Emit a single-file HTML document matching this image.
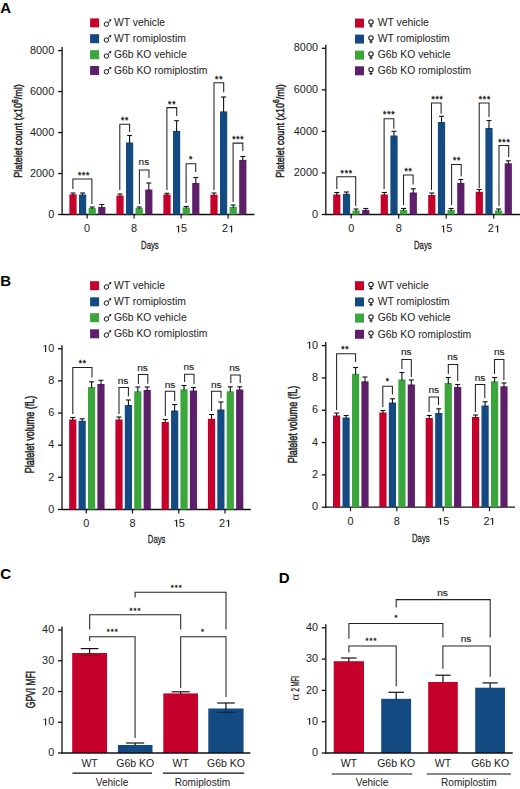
<!DOCTYPE html>
<html><head><meta charset="utf-8"><style>
html,body{margin:0;padding:0;background:#fff;}
body{width:520px;height:789px;overflow:hidden;font-family:"Liberation Sans",sans-serif;}
svg{display:block;}
</style></head><body>
<svg width="520" height="789" viewBox="0 0 520 789">
<rect width="520" height="789" fill="#fff"/>
<text transform="translate(0.2,12.7)" font-family="Liberation Sans" font-size="15" font-weight="bold" text-anchor="start" fill="#000" >A</text>
<text transform="translate(0.2,285.8)" font-family="Liberation Sans" font-size="15" font-weight="bold" text-anchor="start" fill="#000" >B</text>
<text transform="translate(0.2,578.8)" font-family="Liberation Sans" font-size="15" font-weight="bold" text-anchor="start" fill="#000" >C</text>
<text transform="translate(278.8,582.5)" font-family="Liberation Sans" font-size="15" font-weight="bold" text-anchor="start" fill="#000" >D</text>
<rect x="90.1" y="18.4" width="9.0" height="9.0" fill="#c4002b"/>
<circle cx="106.39999999999999" cy="24.2" r="2.2" fill="none" stroke="#1a1a1a" stroke-width="1"/>
<line x1="107.89999999999999" y1="22.7" x2="110.69999999999999" y2="19.9" stroke="#1a1a1a" stroke-width="1.0"/>
<polygon points="111.3,19.299999999999997 108.8,19.6 110.99999999999999,21.8" fill="#1a1a1a"/>
<text transform="translate(113.89999999999999,26.2)" font-family="Liberation Sans" font-size="10.4" font-weight="normal" text-anchor="start" fill="#222" >WT vehicle</text>
<rect x="90.1" y="34.2" width="9.0" height="9.0" fill="#134a82"/>
<circle cx="106.39999999999999" cy="40.0" r="2.2" fill="none" stroke="#1a1a1a" stroke-width="1"/>
<line x1="107.89999999999999" y1="38.5" x2="110.69999999999999" y2="35.7" stroke="#1a1a1a" stroke-width="1.0"/>
<polygon points="111.3,35.1 108.8,35.4 110.99999999999999,37.6" fill="#1a1a1a"/>
<text transform="translate(113.89999999999999,42.0)" font-family="Liberation Sans" font-size="10.4" font-weight="normal" text-anchor="start" fill="#222" >WT romiplostim</text>
<rect x="90.1" y="50.2" width="9.0" height="9.0" fill="#3aa63c"/>
<circle cx="106.39999999999999" cy="56.0" r="2.2" fill="none" stroke="#1a1a1a" stroke-width="1"/>
<line x1="107.89999999999999" y1="54.5" x2="110.69999999999999" y2="51.7" stroke="#1a1a1a" stroke-width="1.0"/>
<polygon points="111.3,51.1 108.8,51.4 110.99999999999999,53.6" fill="#1a1a1a"/>
<text transform="translate(113.89999999999999,58.0)" font-family="Liberation Sans" font-size="10.4" font-weight="normal" text-anchor="start" fill="#222" >G6b KO vehicle</text>
<rect x="90.1" y="66.0" width="9.0" height="9.0" fill="#5e1f6a"/>
<circle cx="106.39999999999999" cy="71.8" r="2.2" fill="none" stroke="#1a1a1a" stroke-width="1"/>
<line x1="107.89999999999999" y1="70.3" x2="110.69999999999999" y2="67.5" stroke="#1a1a1a" stroke-width="1.0"/>
<polygon points="111.3,66.89999999999999 108.8,67.2 110.99999999999999,69.39999999999999" fill="#1a1a1a"/>
<text transform="translate(113.89999999999999,73.8)" font-family="Liberation Sans" font-size="10.4" font-weight="normal" text-anchor="start" fill="#222" >G6b KO romiplostim</text>
<rect x="355.0" y="18.6" width="9.0" height="9.0" fill="#c4002b"/>
<circle cx="371.0" cy="21.900000000000002" r="2.2" fill="none" stroke="#1a1a1a" stroke-width="1.05"/>
<line x1="371.0" y1="24.1" x2="371.0" y2="27.5" stroke="#1a1a1a" stroke-width="1.05"/>
<line x1="369.3" y1="25.900000000000002" x2="372.7" y2="25.900000000000002" stroke="#1a1a1a" stroke-width="0.95"/>
<text transform="translate(377.7,26.400000000000002)" font-family="Liberation Sans" font-size="10.4" font-weight="normal" text-anchor="start" fill="#222" >WT vehicle</text>
<rect x="355.0" y="34.6" width="9.0" height="9.0" fill="#134a82"/>
<circle cx="371.0" cy="37.9" r="2.2" fill="none" stroke="#1a1a1a" stroke-width="1.05"/>
<line x1="371.0" y1="40.1" x2="371.0" y2="43.5" stroke="#1a1a1a" stroke-width="1.05"/>
<line x1="369.3" y1="41.9" x2="372.7" y2="41.9" stroke="#1a1a1a" stroke-width="0.95"/>
<text transform="translate(377.7,42.4)" font-family="Liberation Sans" font-size="10.4" font-weight="normal" text-anchor="start" fill="#222" >WT romiplostim</text>
<rect x="355.0" y="50.6" width="9.0" height="9.0" fill="#3aa63c"/>
<circle cx="371.0" cy="53.9" r="2.2" fill="none" stroke="#1a1a1a" stroke-width="1.05"/>
<line x1="371.0" y1="56.1" x2="371.0" y2="59.5" stroke="#1a1a1a" stroke-width="1.05"/>
<line x1="369.3" y1="57.9" x2="372.7" y2="57.9" stroke="#1a1a1a" stroke-width="0.95"/>
<text transform="translate(377.7,58.4)" font-family="Liberation Sans" font-size="10.4" font-weight="normal" text-anchor="start" fill="#222" >G6b KO vehicle</text>
<rect x="355.0" y="66.3" width="9.0" height="9.0" fill="#5e1f6a"/>
<circle cx="371.0" cy="69.6" r="2.2" fill="none" stroke="#1a1a1a" stroke-width="1.05"/>
<line x1="371.0" y1="71.8" x2="371.0" y2="75.19999999999999" stroke="#1a1a1a" stroke-width="1.05"/>
<line x1="369.3" y1="73.6" x2="372.7" y2="73.6" stroke="#1a1a1a" stroke-width="0.95"/>
<text transform="translate(377.7,74.1)" font-family="Liberation Sans" font-size="10.4" font-weight="normal" text-anchor="start" fill="#222" >G6b KO romiplostim</text>
<line x1="62.1" y1="47.0" x2="62.1" y2="215.1" stroke="#111" stroke-width="1.3"/>
<line x1="58.1" y1="214.5" x2="62.1" y2="214.5" stroke="#111" stroke-width="1.3"/>
<text transform="translate(48.139,217.65) scale(1.09,1)" font-family="Liberation Sans" font-size="10" font-weight="normal" text-anchor="start" fill="#222" >0</text>
<line x1="58.1" y1="173.53" x2="62.1" y2="173.53" stroke="#111" stroke-width="1.3"/>
<text transform="translate(29.954,176.68) scale(1.09,1)" font-family="Liberation Sans" font-size="10" font-weight="normal" text-anchor="start" fill="#222" >2</text>
<text transform="translate(36.016,176.68) scale(1.09,1)" font-family="Liberation Sans" font-size="10" font-weight="normal" text-anchor="start" fill="#222" >0</text>
<text transform="translate(42.077,176.68) scale(1.09,1)" font-family="Liberation Sans" font-size="10" font-weight="normal" text-anchor="start" fill="#222" >0</text>
<text transform="translate(48.139,176.68) scale(1.09,1)" font-family="Liberation Sans" font-size="10" font-weight="normal" text-anchor="start" fill="#222" >0</text>
<line x1="58.1" y1="132.55" x2="62.1" y2="132.55" stroke="#111" stroke-width="1.3"/>
<text transform="translate(29.954,135.7) scale(1.09,1)" font-family="Liberation Sans" font-size="10" font-weight="normal" text-anchor="start" fill="#222" >4</text>
<text transform="translate(36.016,135.7) scale(1.09,1)" font-family="Liberation Sans" font-size="10" font-weight="normal" text-anchor="start" fill="#222" >0</text>
<text transform="translate(42.077,135.7) scale(1.09,1)" font-family="Liberation Sans" font-size="10" font-weight="normal" text-anchor="start" fill="#222" >0</text>
<text transform="translate(48.139,135.7) scale(1.09,1)" font-family="Liberation Sans" font-size="10" font-weight="normal" text-anchor="start" fill="#222" >0</text>
<line x1="58.1" y1="91.57" x2="62.1" y2="91.57" stroke="#111" stroke-width="1.3"/>
<text transform="translate(29.954,94.72) scale(1.09,1)" font-family="Liberation Sans" font-size="10" font-weight="normal" text-anchor="start" fill="#222" >6</text>
<text transform="translate(36.016,94.72) scale(1.09,1)" font-family="Liberation Sans" font-size="10" font-weight="normal" text-anchor="start" fill="#222" >0</text>
<text transform="translate(42.077,94.72) scale(1.09,1)" font-family="Liberation Sans" font-size="10" font-weight="normal" text-anchor="start" fill="#222" >0</text>
<text transform="translate(48.139,94.72) scale(1.09,1)" font-family="Liberation Sans" font-size="10" font-weight="normal" text-anchor="start" fill="#222" >0</text>
<line x1="58.1" y1="50.6" x2="62.1" y2="50.6" stroke="#111" stroke-width="1.3"/>
<text transform="translate(29.954,53.75) scale(1.09,1)" font-family="Liberation Sans" font-size="10" font-weight="normal" text-anchor="start" fill="#222" >8</text>
<text transform="translate(36.016,53.75) scale(1.09,1)" font-family="Liberation Sans" font-size="10" font-weight="normal" text-anchor="start" fill="#222" >0</text>
<text transform="translate(42.077,53.75) scale(1.09,1)" font-family="Liberation Sans" font-size="10" font-weight="normal" text-anchor="start" fill="#222" >0</text>
<text transform="translate(48.139,53.75) scale(1.09,1)" font-family="Liberation Sans" font-size="10" font-weight="normal" text-anchor="start" fill="#222" >0</text>
<line x1="61.5" y1="214.5" x2="254.4" y2="214.5" stroke="#111" stroke-width="1.3"/>
<rect x="69.39999999999999" y="194.3" width="7.2" height="20.2" fill="#c4002b"/>
<rect x="79.0" y="194.5" width="7.2" height="20.0" fill="#134a82"/>
<rect x="88.6" y="208" width="7.2" height="6.5" fill="#3aa63c"/>
<rect x="98.19999999999999" y="207" width="7.2" height="7.5" fill="#5e1f6a"/>
<line x1="72.99999999999999" y1="193" x2="72.99999999999999" y2="195.3" stroke="#111" stroke-width="1.1"/>
<line x1="70.49999999999999" y1="193" x2="75.49999999999999" y2="193" stroke="#111" stroke-width="1.1"/>
<line x1="82.6" y1="193" x2="82.6" y2="195.5" stroke="#111" stroke-width="1.1"/>
<line x1="80.1" y1="193" x2="85.1" y2="193" stroke="#111" stroke-width="1.1"/>
<line x1="92.19999999999999" y1="207" x2="92.19999999999999" y2="209" stroke="#111" stroke-width="1.1"/>
<line x1="89.69999999999999" y1="207" x2="94.69999999999999" y2="207" stroke="#111" stroke-width="1.1"/>
<line x1="101.79999999999998" y1="204.5" x2="101.79999999999998" y2="208" stroke="#111" stroke-width="1.1"/>
<line x1="99.29999999999998" y1="204.5" x2="104.29999999999998" y2="204.5" stroke="#111" stroke-width="1.1"/>
<line x1="87.1" y1="214.5" x2="87.1" y2="218.5" stroke="#111" stroke-width="1.2"/>
<text transform="translate(84.069,232.45) scale(1.09,1)" font-family="Liberation Sans" font-size="10" font-weight="normal" text-anchor="start" fill="#222" >0</text>
<rect x="116.39999999999999" y="195.5" width="7.2" height="19.0" fill="#c4002b"/>
<rect x="126.0" y="142.5" width="7.2" height="72.0" fill="#134a82"/>
<rect x="135.6" y="208" width="7.2" height="6.5" fill="#3aa63c"/>
<rect x="145.2" y="189.5" width="7.2" height="25.0" fill="#5e1f6a"/>
<line x1="119.99999999999999" y1="194" x2="119.99999999999999" y2="196.5" stroke="#111" stroke-width="1.1"/>
<line x1="117.49999999999999" y1="194" x2="122.49999999999999" y2="194" stroke="#111" stroke-width="1.1"/>
<line x1="129.6" y1="135.5" x2="129.6" y2="143.5" stroke="#111" stroke-width="1.1"/>
<line x1="127.1" y1="135.5" x2="132.1" y2="135.5" stroke="#111" stroke-width="1.1"/>
<line x1="139.2" y1="207" x2="139.2" y2="209" stroke="#111" stroke-width="1.1"/>
<line x1="136.7" y1="207" x2="141.7" y2="207" stroke="#111" stroke-width="1.1"/>
<line x1="148.79999999999998" y1="183" x2="148.79999999999998" y2="190.5" stroke="#111" stroke-width="1.1"/>
<line x1="146.29999999999998" y1="183" x2="151.29999999999998" y2="183" stroke="#111" stroke-width="1.1"/>
<line x1="134.1" y1="214.5" x2="134.1" y2="218.5" stroke="#111" stroke-width="1.2"/>
<text transform="translate(131.069,232.45) scale(1.09,1)" font-family="Liberation Sans" font-size="10" font-weight="normal" text-anchor="start" fill="#222" >8</text>
<rect x="163.4" y="194.5" width="7.2" height="20.0" fill="#c4002b"/>
<rect x="173.0" y="130.9" width="7.2" height="83.6" fill="#134a82"/>
<rect x="182.6" y="207.5" width="7.2" height="7.0" fill="#3aa63c"/>
<rect x="192.2" y="183" width="7.2" height="31.5" fill="#5e1f6a"/>
<line x1="167.0" y1="193.3" x2="167.0" y2="195.5" stroke="#111" stroke-width="1.1"/>
<line x1="164.5" y1="193.3" x2="169.5" y2="193.3" stroke="#111" stroke-width="1.1"/>
<line x1="176.6" y1="120.7" x2="176.6" y2="131.9" stroke="#111" stroke-width="1.1"/>
<line x1="174.1" y1="120.7" x2="179.1" y2="120.7" stroke="#111" stroke-width="1.1"/>
<line x1="186.2" y1="206.5" x2="186.2" y2="208.5" stroke="#111" stroke-width="1.1"/>
<line x1="183.7" y1="206.5" x2="188.7" y2="206.5" stroke="#111" stroke-width="1.1"/>
<line x1="195.79999999999998" y1="177.5" x2="195.79999999999998" y2="184" stroke="#111" stroke-width="1.1"/>
<line x1="193.29999999999998" y1="177.5" x2="198.29999999999998" y2="177.5" stroke="#111" stroke-width="1.1"/>
<line x1="181.1" y1="214.5" x2="181.1" y2="218.5" stroke="#111" stroke-width="1.2"/>
<path d="M178 232.45 L178 226.41 L176.31 227.52 L176.31 226.69 L178.08 225.57 L179.2 225.57 L179.2 232.45Z" fill="#222"/>
<text transform="translate(181.1,232.45) scale(1.09,1)" font-family="Liberation Sans" font-size="10" font-weight="normal" text-anchor="start" fill="#222" >5</text>
<rect x="210.4" y="194.7" width="7.2" height="19.8" fill="#c4002b"/>
<rect x="220.0" y="111.4" width="7.2" height="103.1" fill="#134a82"/>
<rect x="229.6" y="206.8" width="7.2" height="7.7" fill="#3aa63c"/>
<rect x="239.2" y="159.9" width="7.2" height="54.6" fill="#5e1f6a"/>
<line x1="214.0" y1="193" x2="214.0" y2="195.7" stroke="#111" stroke-width="1.1"/>
<line x1="211.5" y1="193" x2="216.5" y2="193" stroke="#111" stroke-width="1.1"/>
<line x1="223.6" y1="97" x2="223.6" y2="112.4" stroke="#111" stroke-width="1.1"/>
<line x1="221.1" y1="97" x2="226.1" y2="97" stroke="#111" stroke-width="1.1"/>
<line x1="233.2" y1="205" x2="233.2" y2="207.8" stroke="#111" stroke-width="1.1"/>
<line x1="230.7" y1="205" x2="235.7" y2="205" stroke="#111" stroke-width="1.1"/>
<line x1="242.79999999999998" y1="156.5" x2="242.79999999999998" y2="160.9" stroke="#111" stroke-width="1.1"/>
<line x1="240.29999999999998" y1="156.5" x2="245.29999999999998" y2="156.5" stroke="#111" stroke-width="1.1"/>
<line x1="228.1" y1="214.5" x2="228.1" y2="218.5" stroke="#111" stroke-width="1.2"/>
<text transform="translate(222.039,232.45) scale(1.09,1)" font-family="Liberation Sans" font-size="10" font-weight="normal" text-anchor="start" fill="#222" >2</text>
<path d="M231 232.45 L231 226.41 L229.31 227.52 L229.31 226.69 L231.08 225.57 L232.2 225.57 L232.2 232.45Z" fill="#222"/>
<polyline points="72.9,189 72.9,179 91.9,179 91.9,204" fill="none" stroke="#222" stroke-width="1.05"/>
<text transform="translate(79.55,177.72)" font-family="Liberation Sans" font-size="8.5" font-weight="normal" text-anchor="middle" fill="#222" stroke="#222" stroke-width="0.35" >*</text>
<text transform="translate(83.6,177.72)" font-family="Liberation Sans" font-size="8.5" font-weight="normal" text-anchor="middle" fill="#222" stroke="#222" stroke-width="0.35" >*</text>
<text transform="translate(87.65,177.72)" font-family="Liberation Sans" font-size="8.5" font-weight="normal" text-anchor="middle" fill="#222" stroke="#222" stroke-width="0.35" >*</text>
<polyline points="119.8,190 119.8,124.2 129.6,124.2 129.6,132" fill="none" stroke="#222" stroke-width="1.05"/>
<text transform="translate(122.67,122.72)" font-family="Liberation Sans" font-size="8.5" font-weight="normal" text-anchor="middle" fill="#222" stroke="#222" stroke-width="0.35" >*</text>
<text transform="translate(126.73,122.72)" font-family="Liberation Sans" font-size="8.5" font-weight="normal" text-anchor="middle" fill="#222" stroke="#222" stroke-width="0.35" >*</text>
<polyline points="139.4,204 139.4,170 149.0,170 149.0,178" fill="none" stroke="#222" stroke-width="1.05"/>
<text transform="translate(143.9,164.59) scale(1.05,1)" font-family="Liberation Sans" font-size="9.6" font-weight="normal" text-anchor="middle" fill="#222" stroke="#222" stroke-width="0.15" >ns</text>
<polyline points="166.9,190 166.9,107.6 176.7,107.6 176.7,116" fill="none" stroke="#222" stroke-width="1.05"/>
<text transform="translate(169.78,106.72)" font-family="Liberation Sans" font-size="8.5" font-weight="normal" text-anchor="middle" fill="#222" stroke="#222" stroke-width="0.35" >*</text>
<text transform="translate(173.83,106.72)" font-family="Liberation Sans" font-size="8.5" font-weight="normal" text-anchor="middle" fill="#222" stroke="#222" stroke-width="0.35" >*</text>
<polyline points="186.1,203 186.1,163.7 195.7,163.7 195.7,172" fill="none" stroke="#222" stroke-width="1.05"/>
<text transform="translate(190.6,162.42)" font-family="Liberation Sans" font-size="8.5" font-weight="normal" text-anchor="middle" fill="#222" stroke="#222" stroke-width="0.35" >*</text>
<polyline points="214.0,190 214.0,82.8 223.7,82.8 223.7,92.2" fill="none" stroke="#222" stroke-width="1.05"/>
<text transform="translate(216.78,81.72)" font-family="Liberation Sans" font-size="8.5" font-weight="normal" text-anchor="middle" fill="#222" stroke="#222" stroke-width="0.35" >*</text>
<text transform="translate(220.83,81.72)" font-family="Liberation Sans" font-size="8.5" font-weight="normal" text-anchor="middle" fill="#222" stroke="#222" stroke-width="0.35" >*</text>
<polyline points="233.1,202 233.1,143.1 242.8,143.1 242.8,151" fill="none" stroke="#222" stroke-width="1.05"/>
<text transform="translate(233.85,142.22)" font-family="Liberation Sans" font-size="8.5" font-weight="normal" text-anchor="middle" fill="#222" stroke="#222" stroke-width="0.35" >*</text>
<text transform="translate(237.9,142.22)" font-family="Liberation Sans" font-size="8.5" font-weight="normal" text-anchor="middle" fill="#222" stroke="#222" stroke-width="0.35" >*</text>
<text transform="translate(241.95,142.22)" font-family="Liberation Sans" font-size="8.5" font-weight="normal" text-anchor="middle" fill="#222" stroke="#222" stroke-width="0.35" >*</text>
<text transform="translate(149.9,248.8) scale(0.66,1)" font-family="Liberation Sans" font-size="11.7" font-weight="normal" text-anchor="middle" fill="#222" stroke="#222" stroke-width="0.3" >Days</text>
<text transform="translate(22.4,131) rotate(-90) scale(0.8,1)" font-family="Liberation Sans" font-size="11.3" text-anchor="middle" fill="#1a1a1a" stroke="#1a1a1a" stroke-width="0.45">Platelet count (x10<tspan font-size="8.5" dy="-4.6">6</tspan><tspan dy="4.6">/ml)</tspan></text>
<line x1="325.8" y1="44.699999999999996" x2="325.8" y2="215.1" stroke="#111" stroke-width="1.3"/>
<line x1="321.8" y1="214.5" x2="325.8" y2="214.5" stroke="#111" stroke-width="1.3"/>
<text transform="translate(311.939,217.65) scale(1.09,1)" font-family="Liberation Sans" font-size="10" font-weight="normal" text-anchor="start" fill="#222" >0</text>
<line x1="321.8" y1="172.95" x2="325.8" y2="172.95" stroke="#111" stroke-width="1.3"/>
<text transform="translate(293.754,176.1) scale(1.09,1)" font-family="Liberation Sans" font-size="10" font-weight="normal" text-anchor="start" fill="#222" >2</text>
<text transform="translate(299.816,176.1) scale(1.09,1)" font-family="Liberation Sans" font-size="10" font-weight="normal" text-anchor="start" fill="#222" >0</text>
<text transform="translate(305.877,176.1) scale(1.09,1)" font-family="Liberation Sans" font-size="10" font-weight="normal" text-anchor="start" fill="#222" >0</text>
<text transform="translate(311.939,176.1) scale(1.09,1)" font-family="Liberation Sans" font-size="10" font-weight="normal" text-anchor="start" fill="#222" >0</text>
<line x1="321.8" y1="131.4" x2="325.8" y2="131.4" stroke="#111" stroke-width="1.3"/>
<text transform="translate(293.754,134.54999999999998) scale(1.09,1)" font-family="Liberation Sans" font-size="10" font-weight="normal" text-anchor="start" fill="#222" >4</text>
<text transform="translate(299.816,134.54999999999998) scale(1.09,1)" font-family="Liberation Sans" font-size="10" font-weight="normal" text-anchor="start" fill="#222" >0</text>
<text transform="translate(305.877,134.54999999999998) scale(1.09,1)" font-family="Liberation Sans" font-size="10" font-weight="normal" text-anchor="start" fill="#222" >0</text>
<text transform="translate(311.939,134.54999999999998) scale(1.09,1)" font-family="Liberation Sans" font-size="10" font-weight="normal" text-anchor="start" fill="#222" >0</text>
<line x1="321.8" y1="89.85" x2="325.8" y2="89.85" stroke="#111" stroke-width="1.3"/>
<text transform="translate(293.754,93.0) scale(1.09,1)" font-family="Liberation Sans" font-size="10" font-weight="normal" text-anchor="start" fill="#222" >6</text>
<text transform="translate(299.816,93.0) scale(1.09,1)" font-family="Liberation Sans" font-size="10" font-weight="normal" text-anchor="start" fill="#222" >0</text>
<text transform="translate(305.877,93.0) scale(1.09,1)" font-family="Liberation Sans" font-size="10" font-weight="normal" text-anchor="start" fill="#222" >0</text>
<text transform="translate(311.939,93.0) scale(1.09,1)" font-family="Liberation Sans" font-size="10" font-weight="normal" text-anchor="start" fill="#222" >0</text>
<line x1="321.8" y1="48.3" x2="325.8" y2="48.3" stroke="#111" stroke-width="1.3"/>
<text transform="translate(293.754,51.45) scale(1.09,1)" font-family="Liberation Sans" font-size="10" font-weight="normal" text-anchor="start" fill="#222" >8</text>
<text transform="translate(299.816,51.45) scale(1.09,1)" font-family="Liberation Sans" font-size="10" font-weight="normal" text-anchor="start" fill="#222" >0</text>
<text transform="translate(305.877,51.45) scale(1.09,1)" font-family="Liberation Sans" font-size="10" font-weight="normal" text-anchor="start" fill="#222" >0</text>
<text transform="translate(311.939,51.45) scale(1.09,1)" font-family="Liberation Sans" font-size="10" font-weight="normal" text-anchor="start" fill="#222" >0</text>
<line x1="325.2" y1="214.5" x2="520" y2="214.5" stroke="#111" stroke-width="1.3"/>
<rect x="333.2" y="194.5" width="7.2" height="20.0" fill="#c4002b"/>
<rect x="342.9" y="193.8" width="7.2" height="20.7" fill="#134a82"/>
<rect x="352.5" y="210.5" width="7.2" height="4.0" fill="#3aa63c"/>
<rect x="362.2" y="210" width="7.2" height="4.5" fill="#5e1f6a"/>
<line x1="336.8" y1="192.5" x2="336.8" y2="195.5" stroke="#111" stroke-width="1.1"/>
<line x1="334.3" y1="192.5" x2="339.3" y2="192.5" stroke="#111" stroke-width="1.1"/>
<line x1="346.5" y1="192" x2="346.5" y2="194.8" stroke="#111" stroke-width="1.1"/>
<line x1="344.0" y1="192" x2="349.0" y2="192" stroke="#111" stroke-width="1.1"/>
<line x1="356.1" y1="209" x2="356.1" y2="211.5" stroke="#111" stroke-width="1.1"/>
<line x1="353.6" y1="209" x2="358.6" y2="209" stroke="#111" stroke-width="1.1"/>
<line x1="365.8" y1="208.5" x2="365.8" y2="211" stroke="#111" stroke-width="1.1"/>
<line x1="363.3" y1="208.5" x2="368.3" y2="208.5" stroke="#111" stroke-width="1.1"/>
<line x1="351.2" y1="214.5" x2="351.2" y2="218.5" stroke="#111" stroke-width="1.2"/>
<text transform="translate(348.169,232.45) scale(1.09,1)" font-family="Liberation Sans" font-size="10" font-weight="normal" text-anchor="start" fill="#222" >0</text>
<rect x="380.7" y="194.5" width="7.2" height="20.0" fill="#c4002b"/>
<rect x="390.4" y="135.5" width="7.2" height="79.0" fill="#134a82"/>
<rect x="400.0" y="210" width="7.2" height="4.5" fill="#3aa63c"/>
<rect x="409.7" y="192.5" width="7.2" height="22.0" fill="#5e1f6a"/>
<line x1="384.3" y1="192.5" x2="384.3" y2="195.5" stroke="#111" stroke-width="1.1"/>
<line x1="381.8" y1="192.5" x2="386.8" y2="192.5" stroke="#111" stroke-width="1.1"/>
<line x1="394.0" y1="131.3" x2="394.0" y2="136.5" stroke="#111" stroke-width="1.1"/>
<line x1="391.5" y1="131.3" x2="396.5" y2="131.3" stroke="#111" stroke-width="1.1"/>
<line x1="403.6" y1="208.5" x2="403.6" y2="211" stroke="#111" stroke-width="1.1"/>
<line x1="401.1" y1="208.5" x2="406.1" y2="208.5" stroke="#111" stroke-width="1.1"/>
<line x1="413.3" y1="188.8" x2="413.3" y2="193.5" stroke="#111" stroke-width="1.1"/>
<line x1="410.8" y1="188.8" x2="415.8" y2="188.8" stroke="#111" stroke-width="1.1"/>
<line x1="398.7" y1="214.5" x2="398.7" y2="218.5" stroke="#111" stroke-width="1.2"/>
<text transform="translate(395.669,232.45) scale(1.09,1)" font-family="Liberation Sans" font-size="10" font-weight="normal" text-anchor="start" fill="#222" >8</text>
<rect x="428.2" y="195" width="7.2" height="19.5" fill="#c4002b"/>
<rect x="437.9" y="122" width="7.2" height="92.5" fill="#134a82"/>
<rect x="447.5" y="210" width="7.2" height="4.5" fill="#3aa63c"/>
<rect x="457.2" y="183" width="7.2" height="31.5" fill="#5e1f6a"/>
<line x1="431.8" y1="193" x2="431.8" y2="196" stroke="#111" stroke-width="1.1"/>
<line x1="429.3" y1="193" x2="434.3" y2="193" stroke="#111" stroke-width="1.1"/>
<line x1="441.5" y1="116.3" x2="441.5" y2="123" stroke="#111" stroke-width="1.1"/>
<line x1="439.0" y1="116.3" x2="444.0" y2="116.3" stroke="#111" stroke-width="1.1"/>
<line x1="451.1" y1="208.5" x2="451.1" y2="211" stroke="#111" stroke-width="1.1"/>
<line x1="448.6" y1="208.5" x2="453.6" y2="208.5" stroke="#111" stroke-width="1.1"/>
<line x1="460.8" y1="179.5" x2="460.8" y2="184" stroke="#111" stroke-width="1.1"/>
<line x1="458.3" y1="179.5" x2="463.3" y2="179.5" stroke="#111" stroke-width="1.1"/>
<line x1="446.2" y1="214.5" x2="446.2" y2="218.5" stroke="#111" stroke-width="1.2"/>
<path d="M443 232.45 L443 226.41 L441.31 227.52 L441.31 226.69 L443.08 225.57 L444.2 225.57 L444.2 232.45Z" fill="#222"/>
<text transform="translate(446.2,232.45) scale(1.09,1)" font-family="Liberation Sans" font-size="10" font-weight="normal" text-anchor="start" fill="#222" >5</text>
<rect x="475.7" y="191.8" width="7.2" height="22.7" fill="#c4002b"/>
<rect x="485.4" y="128" width="7.2" height="86.5" fill="#134a82"/>
<rect x="495.0" y="210.5" width="7.2" height="4.0" fill="#3aa63c"/>
<rect x="504.7" y="163.3" width="7.2" height="51.2" fill="#5e1f6a"/>
<line x1="479.3" y1="189.5" x2="479.3" y2="192.8" stroke="#111" stroke-width="1.1"/>
<line x1="476.8" y1="189.5" x2="481.8" y2="189.5" stroke="#111" stroke-width="1.1"/>
<line x1="489.0" y1="120.5" x2="489.0" y2="129" stroke="#111" stroke-width="1.1"/>
<line x1="486.5" y1="120.5" x2="491.5" y2="120.5" stroke="#111" stroke-width="1.1"/>
<line x1="498.6" y1="209" x2="498.6" y2="211.5" stroke="#111" stroke-width="1.1"/>
<line x1="496.1" y1="209" x2="501.1" y2="209" stroke="#111" stroke-width="1.1"/>
<line x1="508.3" y1="160.8" x2="508.3" y2="164.3" stroke="#111" stroke-width="1.1"/>
<line x1="505.8" y1="160.8" x2="510.8" y2="160.8" stroke="#111" stroke-width="1.1"/>
<line x1="493.7" y1="214.5" x2="493.7" y2="218.5" stroke="#111" stroke-width="1.2"/>
<text transform="translate(487.639,232.45) scale(1.09,1)" font-family="Liberation Sans" font-size="10" font-weight="normal" text-anchor="start" fill="#222" >2</text>
<path d="M497 232.45 L497 226.41 L495.31 227.52 L495.31 226.69 L497.08 225.57 L498.2 225.57 L498.2 232.45Z" fill="#222"/>
<polyline points="336.8,189 336.8,176.8 355.7,176.8 355.7,206" fill="none" stroke="#222" stroke-width="1.05"/>
<text transform="translate(342.25,176.42)" font-family="Liberation Sans" font-size="8.5" font-weight="normal" text-anchor="middle" fill="#222" stroke="#222" stroke-width="0.35" >*</text>
<text transform="translate(346.3,176.42)" font-family="Liberation Sans" font-size="8.5" font-weight="normal" text-anchor="middle" fill="#222" stroke="#222" stroke-width="0.35" >*</text>
<text transform="translate(350.35,176.42)" font-family="Liberation Sans" font-size="8.5" font-weight="normal" text-anchor="middle" fill="#222" stroke="#222" stroke-width="0.35" >*</text>
<polyline points="384.1,189 384.1,118.8 393.8,118.8 393.8,128.8" fill="none" stroke="#222" stroke-width="1.05"/>
<text transform="translate(384.75,117.42)" font-family="Liberation Sans" font-size="8.5" font-weight="normal" text-anchor="middle" fill="#222" stroke="#222" stroke-width="0.35" >*</text>
<text transform="translate(388.8,117.42)" font-family="Liberation Sans" font-size="8.5" font-weight="normal" text-anchor="middle" fill="#222" stroke="#222" stroke-width="0.35" >*</text>
<text transform="translate(392.85,117.42)" font-family="Liberation Sans" font-size="8.5" font-weight="normal" text-anchor="middle" fill="#222" stroke="#222" stroke-width="0.35" >*</text>
<polyline points="403.5,205 403.5,175 413.1,175 413.1,184.5" fill="none" stroke="#222" stroke-width="1.05"/>
<text transform="translate(406.18,173.92)" font-family="Liberation Sans" font-size="8.5" font-weight="normal" text-anchor="middle" fill="#222" stroke="#222" stroke-width="0.35" >*</text>
<text transform="translate(410.22,173.92)" font-family="Liberation Sans" font-size="8.5" font-weight="normal" text-anchor="middle" fill="#222" stroke="#222" stroke-width="0.35" >*</text>
<polyline points="431.5,190 431.5,103 441.1,103 441.1,113.8" fill="none" stroke="#222" stroke-width="1.05"/>
<text transform="translate(433.15,101.92)" font-family="Liberation Sans" font-size="8.5" font-weight="normal" text-anchor="middle" fill="#222" stroke="#222" stroke-width="0.35" >*</text>
<text transform="translate(437.2,101.92)" font-family="Liberation Sans" font-size="8.5" font-weight="normal" text-anchor="middle" fill="#222" stroke="#222" stroke-width="0.35" >*</text>
<text transform="translate(441.25,101.92)" font-family="Liberation Sans" font-size="8.5" font-weight="normal" text-anchor="middle" fill="#222" stroke="#222" stroke-width="0.35" >*</text>
<polyline points="451.6,205 451.6,164.5 461.2,164.5 461.2,176.3" fill="none" stroke="#222" stroke-width="1.05"/>
<text transform="translate(454.58,162.72)" font-family="Liberation Sans" font-size="8.5" font-weight="normal" text-anchor="middle" fill="#222" stroke="#222" stroke-width="0.35" >*</text>
<text transform="translate(458.62,162.72)" font-family="Liberation Sans" font-size="8.5" font-weight="normal" text-anchor="middle" fill="#222" stroke="#222" stroke-width="0.35" >*</text>
<polyline points="479.2,188 479.2,103 489.0,103 489.0,117" fill="none" stroke="#222" stroke-width="1.05"/>
<text transform="translate(480.45,101.92)" font-family="Liberation Sans" font-size="8.5" font-weight="normal" text-anchor="middle" fill="#222" stroke="#222" stroke-width="0.35" >*</text>
<text transform="translate(484.5,101.92)" font-family="Liberation Sans" font-size="8.5" font-weight="normal" text-anchor="middle" fill="#222" stroke="#222" stroke-width="0.35" >*</text>
<text transform="translate(488.55,101.92)" font-family="Liberation Sans" font-size="8.5" font-weight="normal" text-anchor="middle" fill="#222" stroke="#222" stroke-width="0.35" >*</text>
<polyline points="499.0,206 499.0,145.5 508.7,145.5 508.7,157" fill="none" stroke="#222" stroke-width="1.05"/>
<text transform="translate(499.95,144.92)" font-family="Liberation Sans" font-size="8.5" font-weight="normal" text-anchor="middle" fill="#222" stroke="#222" stroke-width="0.35" >*</text>
<text transform="translate(504.0,144.92)" font-family="Liberation Sans" font-size="8.5" font-weight="normal" text-anchor="middle" fill="#222" stroke="#222" stroke-width="0.35" >*</text>
<text transform="translate(508.05,144.92)" font-family="Liberation Sans" font-size="8.5" font-weight="normal" text-anchor="middle" fill="#222" stroke="#222" stroke-width="0.35" >*</text>
<text transform="translate(422.8,248.8) scale(0.66,1)" font-family="Liberation Sans" font-size="11.7" font-weight="normal" text-anchor="middle" fill="#222" stroke="#222" stroke-width="0.3" >Days</text>
<text transform="translate(283.6,131) rotate(-90) scale(0.8,1)" font-family="Liberation Sans" font-size="11.3" text-anchor="middle" fill="#1a1a1a" stroke="#1a1a1a" stroke-width="0.45">Platelet count (x10<tspan font-size="8.5" dy="-4.6">6</tspan><tspan dy="4.6">/ml)</tspan></text>
<rect x="90.1" y="281.2" width="9.0" height="9.0" fill="#c4002b"/>
<circle cx="106.39999999999999" cy="287.0" r="2.2" fill="none" stroke="#1a1a1a" stroke-width="1"/>
<line x1="107.89999999999999" y1="285.5" x2="110.69999999999999" y2="282.7" stroke="#1a1a1a" stroke-width="1.0"/>
<polygon points="111.3,282.1 108.8,282.4 110.99999999999999,284.6" fill="#1a1a1a"/>
<text transform="translate(113.89999999999999,289.0)" font-family="Liberation Sans" font-size="10.4" font-weight="normal" text-anchor="start" fill="#222" >WT vehicle</text>
<rect x="90.1" y="297.3" width="9.0" height="9.0" fill="#134a82"/>
<circle cx="106.39999999999999" cy="303.1" r="2.2" fill="none" stroke="#1a1a1a" stroke-width="1"/>
<line x1="107.89999999999999" y1="301.6" x2="110.69999999999999" y2="298.8" stroke="#1a1a1a" stroke-width="1.0"/>
<polygon points="111.3,298.20000000000005 108.8,298.5 110.99999999999999,300.70000000000005" fill="#1a1a1a"/>
<text transform="translate(113.89999999999999,305.1)" font-family="Liberation Sans" font-size="10.4" font-weight="normal" text-anchor="start" fill="#222" >WT romiplostim</text>
<rect x="90.1" y="313.2" width="9.0" height="9.0" fill="#3aa63c"/>
<circle cx="106.39999999999999" cy="319.0" r="2.2" fill="none" stroke="#1a1a1a" stroke-width="1"/>
<line x1="107.89999999999999" y1="317.5" x2="110.69999999999999" y2="314.7" stroke="#1a1a1a" stroke-width="1.0"/>
<polygon points="111.3,314.1 108.8,314.4 110.99999999999999,316.6" fill="#1a1a1a"/>
<text transform="translate(113.89999999999999,321.0)" font-family="Liberation Sans" font-size="10.4" font-weight="normal" text-anchor="start" fill="#222" >G6b KO vehicle</text>
<rect x="90.1" y="329.3" width="9.0" height="9.0" fill="#5e1f6a"/>
<circle cx="106.39999999999999" cy="335.1" r="2.2" fill="none" stroke="#1a1a1a" stroke-width="1"/>
<line x1="107.89999999999999" y1="333.6" x2="110.69999999999999" y2="330.8" stroke="#1a1a1a" stroke-width="1.0"/>
<polygon points="111.3,330.20000000000005 108.8,330.5 110.99999999999999,332.70000000000005" fill="#1a1a1a"/>
<text transform="translate(113.89999999999999,337.1)" font-family="Liberation Sans" font-size="10.4" font-weight="normal" text-anchor="start" fill="#222" >G6b KO romiplostim</text>
<rect x="355.0" y="281.2" width="9.0" height="9.0" fill="#c4002b"/>
<circle cx="371.0" cy="284.5" r="2.2" fill="none" stroke="#1a1a1a" stroke-width="1.05"/>
<line x1="371.0" y1="286.7" x2="371.0" y2="290.1" stroke="#1a1a1a" stroke-width="1.05"/>
<line x1="369.3" y1="288.5" x2="372.7" y2="288.5" stroke="#1a1a1a" stroke-width="0.95"/>
<text transform="translate(377.7,289.0)" font-family="Liberation Sans" font-size="10.4" font-weight="normal" text-anchor="start" fill="#222" >WT vehicle</text>
<rect x="355.0" y="297.4" width="9.0" height="9.0" fill="#134a82"/>
<circle cx="371.0" cy="300.7" r="2.2" fill="none" stroke="#1a1a1a" stroke-width="1.05"/>
<line x1="371.0" y1="302.9" x2="371.0" y2="306.3" stroke="#1a1a1a" stroke-width="1.05"/>
<line x1="369.3" y1="304.7" x2="372.7" y2="304.7" stroke="#1a1a1a" stroke-width="0.95"/>
<text transform="translate(377.7,305.2)" font-family="Liberation Sans" font-size="10.4" font-weight="normal" text-anchor="start" fill="#222" >WT romiplostim</text>
<rect x="355.0" y="313.6" width="9.0" height="9.0" fill="#3aa63c"/>
<circle cx="371.0" cy="316.90000000000003" r="2.2" fill="none" stroke="#1a1a1a" stroke-width="1.05"/>
<line x1="371.0" y1="319.1" x2="371.0" y2="322.50000000000006" stroke="#1a1a1a" stroke-width="1.05"/>
<line x1="369.3" y1="320.90000000000003" x2="372.7" y2="320.90000000000003" stroke="#1a1a1a" stroke-width="0.95"/>
<text transform="translate(377.7,321.40000000000003)" font-family="Liberation Sans" font-size="10.4" font-weight="normal" text-anchor="start" fill="#222" >G6b KO vehicle</text>
<rect x="355.0" y="329.8" width="9.0" height="9.0" fill="#5e1f6a"/>
<circle cx="371.0" cy="333.1" r="2.2" fill="none" stroke="#1a1a1a" stroke-width="1.05"/>
<line x1="371.0" y1="335.3" x2="371.0" y2="338.70000000000005" stroke="#1a1a1a" stroke-width="1.05"/>
<line x1="369.3" y1="337.1" x2="372.7" y2="337.1" stroke="#1a1a1a" stroke-width="0.95"/>
<text transform="translate(377.7,337.6)" font-family="Liberation Sans" font-size="10.4" font-weight="normal" text-anchor="start" fill="#222" >G6b KO romiplostim</text>
<line x1="62.0" y1="345.15" x2="62.0" y2="510.1" stroke="#111" stroke-width="1.3"/>
<line x1="58.0" y1="509.5" x2="62.0" y2="509.5" stroke="#111" stroke-width="1.3"/>
<text transform="translate(48.139,512.65) scale(1.09,1)" font-family="Liberation Sans" font-size="10" font-weight="normal" text-anchor="start" fill="#222" >0</text>
<line x1="58.0" y1="477.35" x2="62.0" y2="477.35" stroke="#111" stroke-width="1.3"/>
<text transform="translate(48.139,480.5) scale(1.09,1)" font-family="Liberation Sans" font-size="10" font-weight="normal" text-anchor="start" fill="#222" >2</text>
<line x1="58.0" y1="445.2" x2="62.0" y2="445.2" stroke="#111" stroke-width="1.3"/>
<text transform="translate(48.139,448.35) scale(1.09,1)" font-family="Liberation Sans" font-size="10" font-weight="normal" text-anchor="start" fill="#222" >4</text>
<line x1="58.0" y1="413.05" x2="62.0" y2="413.05" stroke="#111" stroke-width="1.3"/>
<text transform="translate(48.139,416.20000000000005) scale(1.09,1)" font-family="Liberation Sans" font-size="10" font-weight="normal" text-anchor="start" fill="#222" >6</text>
<line x1="58.0" y1="380.9" x2="62.0" y2="380.9" stroke="#111" stroke-width="1.3"/>
<text transform="translate(48.139,384.05) scale(1.09,1)" font-family="Liberation Sans" font-size="10" font-weight="normal" text-anchor="start" fill="#222" >8</text>
<line x1="58.0" y1="348.75" x2="62.0" y2="348.75" stroke="#111" stroke-width="1.3"/>
<path d="M45 351.9 L45 345.86 L43.31 346.97 L43.31 346.14 L45.08 345.02 L46.2 345.02 L46.2 351.9Z" fill="#222"/>
<text transform="translate(48.139,351.90000000000003) scale(1.09,1)" font-family="Liberation Sans" font-size="10" font-weight="normal" text-anchor="start" fill="#222" >0</text>
<line x1="61.4" y1="509.5" x2="250.8" y2="509.5" stroke="#111" stroke-width="1.3"/>
<rect x="69.15" y="419.5" width="7.2" height="90.0" fill="#c4002b"/>
<rect x="78.55" y="420.8" width="7.2" height="88.7" fill="#134a82"/>
<rect x="87.95" y="387" width="7.2" height="122.5" fill="#3aa63c"/>
<rect x="97.35" y="384" width="7.2" height="125.5" fill="#5e1f6a"/>
<line x1="72.75" y1="417.5" x2="72.75" y2="420.5" stroke="#111" stroke-width="1.1"/>
<line x1="70.25" y1="417.5" x2="75.25" y2="417.5" stroke="#111" stroke-width="1.1"/>
<line x1="82.14999999999999" y1="418.8" x2="82.14999999999999" y2="421.8" stroke="#111" stroke-width="1.1"/>
<line x1="79.64999999999999" y1="418.8" x2="84.64999999999999" y2="418.8" stroke="#111" stroke-width="1.1"/>
<line x1="91.55" y1="381.8" x2="91.55" y2="388" stroke="#111" stroke-width="1.1"/>
<line x1="89.05" y1="381.8" x2="94.05" y2="381.8" stroke="#111" stroke-width="1.1"/>
<line x1="100.94999999999999" y1="380.3" x2="100.94999999999999" y2="385" stroke="#111" stroke-width="1.1"/>
<line x1="98.44999999999999" y1="380.3" x2="103.44999999999999" y2="380.3" stroke="#111" stroke-width="1.1"/>
<line x1="86.25" y1="509.5" x2="86.25" y2="513.5" stroke="#111" stroke-width="1.2"/>
<text transform="translate(83.219,526.75) scale(1.09,1)" font-family="Liberation Sans" font-size="10" font-weight="normal" text-anchor="start" fill="#222" >0</text>
<rect x="115.4" y="419.5" width="7.2" height="90.0" fill="#c4002b"/>
<rect x="124.8" y="405" width="7.2" height="104.5" fill="#134a82"/>
<rect x="134.2" y="391.3" width="7.2" height="118.2" fill="#3aa63c"/>
<rect x="143.6" y="390" width="7.2" height="119.5" fill="#5e1f6a"/>
<line x1="119.0" y1="417" x2="119.0" y2="420.5" stroke="#111" stroke-width="1.1"/>
<line x1="116.5" y1="417" x2="121.5" y2="417" stroke="#111" stroke-width="1.1"/>
<line x1="128.4" y1="400" x2="128.4" y2="406" stroke="#111" stroke-width="1.1"/>
<line x1="125.9" y1="400" x2="130.9" y2="400" stroke="#111" stroke-width="1.1"/>
<line x1="137.79999999999998" y1="387" x2="137.79999999999998" y2="392.3" stroke="#111" stroke-width="1.1"/>
<line x1="135.29999999999998" y1="387" x2="140.29999999999998" y2="387" stroke="#111" stroke-width="1.1"/>
<line x1="147.2" y1="387" x2="147.2" y2="391" stroke="#111" stroke-width="1.1"/>
<line x1="144.7" y1="387" x2="149.7" y2="387" stroke="#111" stroke-width="1.1"/>
<line x1="132.5" y1="509.5" x2="132.5" y2="513.5" stroke="#111" stroke-width="1.2"/>
<text transform="translate(129.469,526.75) scale(1.09,1)" font-family="Liberation Sans" font-size="10" font-weight="normal" text-anchor="start" fill="#222" >8</text>
<rect x="161.65" y="422" width="7.2" height="87.5" fill="#c4002b"/>
<rect x="171.05" y="410.5" width="7.2" height="99.0" fill="#134a82"/>
<rect x="180.45" y="389.3" width="7.2" height="120.2" fill="#3aa63c"/>
<rect x="189.85" y="390.5" width="7.2" height="119.0" fill="#5e1f6a"/>
<line x1="165.25" y1="419.5" x2="165.25" y2="423" stroke="#111" stroke-width="1.1"/>
<line x1="162.75" y1="419.5" x2="167.75" y2="419.5" stroke="#111" stroke-width="1.1"/>
<line x1="174.65" y1="404.5" x2="174.65" y2="411.5" stroke="#111" stroke-width="1.1"/>
<line x1="172.15" y1="404.5" x2="177.15" y2="404.5" stroke="#111" stroke-width="1.1"/>
<line x1="184.04999999999998" y1="385.5" x2="184.04999999999998" y2="390.3" stroke="#111" stroke-width="1.1"/>
<line x1="181.54999999999998" y1="385.5" x2="186.54999999999998" y2="385.5" stroke="#111" stroke-width="1.1"/>
<line x1="193.45" y1="387.5" x2="193.45" y2="391.5" stroke="#111" stroke-width="1.1"/>
<line x1="190.95" y1="387.5" x2="195.95" y2="387.5" stroke="#111" stroke-width="1.1"/>
<line x1="178.75" y1="509.5" x2="178.75" y2="513.5" stroke="#111" stroke-width="1.2"/>
<path d="M176 526.75 L176 520.71 L174.31 521.82 L174.31 520.99 L176.08 519.87 L177.2 519.87 L177.2 526.75Z" fill="#222"/>
<text transform="translate(178.75,526.75) scale(1.09,1)" font-family="Liberation Sans" font-size="10" font-weight="normal" text-anchor="start" fill="#222" >5</text>
<rect x="207.9" y="418.8" width="7.2" height="90.7" fill="#c4002b"/>
<rect x="217.3" y="409.5" width="7.2" height="100.0" fill="#134a82"/>
<rect x="226.7" y="391.3" width="7.2" height="118.2" fill="#3aa63c"/>
<rect x="236.1" y="389.5" width="7.2" height="120.0" fill="#5e1f6a"/>
<line x1="211.5" y1="414.5" x2="211.5" y2="419.8" stroke="#111" stroke-width="1.1"/>
<line x1="209.0" y1="414.5" x2="214.0" y2="414.5" stroke="#111" stroke-width="1.1"/>
<line x1="220.9" y1="402" x2="220.9" y2="410.5" stroke="#111" stroke-width="1.1"/>
<line x1="218.4" y1="402" x2="223.4" y2="402" stroke="#111" stroke-width="1.1"/>
<line x1="230.29999999999998" y1="386.8" x2="230.29999999999998" y2="392.3" stroke="#111" stroke-width="1.1"/>
<line x1="227.79999999999998" y1="386.8" x2="232.79999999999998" y2="386.8" stroke="#111" stroke-width="1.1"/>
<line x1="239.7" y1="386.8" x2="239.7" y2="390.5" stroke="#111" stroke-width="1.1"/>
<line x1="237.2" y1="386.8" x2="242.2" y2="386.8" stroke="#111" stroke-width="1.1"/>
<line x1="225.0" y1="509.5" x2="225.0" y2="513.5" stroke="#111" stroke-width="1.2"/>
<text transform="translate(218.939,526.75) scale(1.09,1)" font-family="Liberation Sans" font-size="10" font-weight="normal" text-anchor="start" fill="#222" >2</text>
<path d="M228 526.75 L228 520.71 L226.31 521.82 L226.31 520.99 L228.08 519.87 L229.2 519.87 L229.2 526.75Z" fill="#222"/>
<polyline points="72.8,414 72.8,367.5 92.0,367.5 92.0,377.5" fill="none" stroke="#222" stroke-width="1.05"/>
<text transform="translate(80.47,366.42)" font-family="Liberation Sans" font-size="8.5" font-weight="normal" text-anchor="middle" fill="#222" stroke="#222" stroke-width="0.35" >*</text>
<text transform="translate(84.53,366.42)" font-family="Liberation Sans" font-size="8.5" font-weight="normal" text-anchor="middle" fill="#222" stroke="#222" stroke-width="0.35" >*</text>
<polyline points="119.0,414 119.0,387.5 128.4,387.5 128.4,396.3" fill="none" stroke="#222" stroke-width="1.05"/>
<text transform="translate(123,384.09) scale(1.05,1)" font-family="Liberation Sans" font-size="9.6" font-weight="normal" text-anchor="middle" fill="#222" stroke="#222" stroke-width="0.15" >ns</text>
<polyline points="138.4,384 138.4,374.5 147.8,374.5 147.8,383.8" fill="none" stroke="#222" stroke-width="1.05"/>
<text transform="translate(142.5,370.59) scale(1.05,1)" font-family="Liberation Sans" font-size="9.6" font-weight="normal" text-anchor="middle" fill="#222" stroke="#222" stroke-width="0.15" >ns</text>
<polyline points="165.3,416 165.3,391.3 174.7,391.3 174.7,401" fill="none" stroke="#222" stroke-width="1.05"/>
<text transform="translate(170,388.09) scale(1.05,1)" font-family="Liberation Sans" font-size="9.6" font-weight="normal" text-anchor="middle" fill="#222" stroke="#222" stroke-width="0.15" >ns</text>
<polyline points="184.6,382 184.6,374.3 194.0,374.3 194.0,384" fill="none" stroke="#222" stroke-width="1.05"/>
<text transform="translate(188.8,370.39) scale(1.05,1)" font-family="Liberation Sans" font-size="9.6" font-weight="normal" text-anchor="middle" fill="#222" stroke="#222" stroke-width="0.15" >ns</text>
<polyline points="211.6,411 211.6,391.3 221.0,391.3 221.0,398" fill="none" stroke="#222" stroke-width="1.05"/>
<text transform="translate(216.3,388.09) scale(1.05,1)" font-family="Liberation Sans" font-size="9.6" font-weight="normal" text-anchor="middle" fill="#222" stroke="#222" stroke-width="0.15" >ns</text>
<polyline points="230.8,383 230.8,375 240.2,375 240.2,383" fill="none" stroke="#222" stroke-width="1.05"/>
<text transform="translate(234.5,370.59) scale(1.05,1)" font-family="Liberation Sans" font-size="9.6" font-weight="normal" text-anchor="middle" fill="#222" stroke="#222" stroke-width="0.15" >ns</text>
<text transform="translate(156.6,543.2) scale(0.66,1)" font-family="Liberation Sans" font-size="11.7" font-weight="normal" text-anchor="middle" fill="#222" stroke="#222" stroke-width="0.3" >Days</text>
<text transform="translate(34.4,434.5) rotate(-90) scale(0.75,1)" font-family="Liberation Sans" font-size="12" font-weight="normal" text-anchor="middle" fill="#1a1a1a" stroke="#1a1a1a" stroke-width="0.45" >Platelet volume (fL)</text>
<line x1="325.8" y1="342.0" x2="325.8" y2="507.8" stroke="#111" stroke-width="1.3"/>
<line x1="321.8" y1="507.2" x2="325.8" y2="507.2" stroke="#111" stroke-width="1.3"/>
<text transform="translate(311.939,510.35) scale(1.09,1)" font-family="Liberation Sans" font-size="10" font-weight="normal" text-anchor="start" fill="#222" >0</text>
<line x1="321.8" y1="474.88" x2="325.8" y2="474.88" stroke="#111" stroke-width="1.3"/>
<text transform="translate(311.939,478.03000000000003) scale(1.09,1)" font-family="Liberation Sans" font-size="10" font-weight="normal" text-anchor="start" fill="#222" >2</text>
<line x1="321.8" y1="442.56" x2="325.8" y2="442.56" stroke="#111" stroke-width="1.3"/>
<text transform="translate(311.939,445.71000000000004) scale(1.09,1)" font-family="Liberation Sans" font-size="10" font-weight="normal" text-anchor="start" fill="#222" >4</text>
<line x1="321.8" y1="410.24" x2="325.8" y2="410.24" stroke="#111" stroke-width="1.3"/>
<text transform="translate(311.939,413.39000000000004) scale(1.09,1)" font-family="Liberation Sans" font-size="10" font-weight="normal" text-anchor="start" fill="#222" >6</text>
<line x1="321.8" y1="377.92" x2="325.8" y2="377.92" stroke="#111" stroke-width="1.3"/>
<text transform="translate(311.939,381.07000000000005) scale(1.09,1)" font-family="Liberation Sans" font-size="10" font-weight="normal" text-anchor="start" fill="#222" >8</text>
<line x1="321.8" y1="345.6" x2="325.8" y2="345.6" stroke="#111" stroke-width="1.3"/>
<path d="M309 348.75 L309 342.71 L307.31 343.82 L307.31 342.99 L309.08 341.87 L310.2 341.87 L310.2 348.75Z" fill="#222"/>
<text transform="translate(311.939,348.75) scale(1.09,1)" font-family="Liberation Sans" font-size="10" font-weight="normal" text-anchor="start" fill="#222" >0</text>
<line x1="325.2" y1="507.2" x2="515" y2="507.2" stroke="#111" stroke-width="1.3"/>
<rect x="333.0" y="415.5" width="7.2" height="91.7" fill="#c4002b"/>
<rect x="342.5" y="417.5" width="7.2" height="89.7" fill="#134a82"/>
<rect x="352.0" y="373.8" width="7.2" height="133.4" fill="#3aa63c"/>
<rect x="361.4" y="381.3" width="7.2" height="125.9" fill="#5e1f6a"/>
<line x1="336.6" y1="413" x2="336.6" y2="416.5" stroke="#111" stroke-width="1.1"/>
<line x1="334.1" y1="413" x2="339.1" y2="413" stroke="#111" stroke-width="1.1"/>
<line x1="346.1" y1="415.5" x2="346.1" y2="418.5" stroke="#111" stroke-width="1.1"/>
<line x1="343.6" y1="415.5" x2="348.6" y2="415.5" stroke="#111" stroke-width="1.1"/>
<line x1="355.6" y1="367.5" x2="355.6" y2="374.8" stroke="#111" stroke-width="1.1"/>
<line x1="353.1" y1="367.5" x2="358.1" y2="367.5" stroke="#111" stroke-width="1.1"/>
<line x1="365.0" y1="377" x2="365.0" y2="382.3" stroke="#111" stroke-width="1.1"/>
<line x1="362.5" y1="377" x2="367.5" y2="377" stroke="#111" stroke-width="1.1"/>
<line x1="350.5" y1="507.2" x2="350.5" y2="511.2" stroke="#111" stroke-width="1.2"/>
<text transform="translate(347.469,524.85) scale(1.09,1)" font-family="Liberation Sans" font-size="10" font-weight="normal" text-anchor="start" fill="#222" >0</text>
<rect x="379.33" y="412.5" width="7.2" height="94.7" fill="#c4002b"/>
<rect x="388.83" y="402.5" width="7.2" height="104.7" fill="#134a82"/>
<rect x="398.33" y="379.5" width="7.2" height="127.7" fill="#3aa63c"/>
<rect x="407.72999999999996" y="384.5" width="7.2" height="122.7" fill="#5e1f6a"/>
<line x1="382.93" y1="410.5" x2="382.93" y2="413.5" stroke="#111" stroke-width="1.1"/>
<line x1="380.43" y1="410.5" x2="385.43" y2="410.5" stroke="#111" stroke-width="1.1"/>
<line x1="392.43" y1="398.8" x2="392.43" y2="403.5" stroke="#111" stroke-width="1.1"/>
<line x1="389.93" y1="398.8" x2="394.93" y2="398.8" stroke="#111" stroke-width="1.1"/>
<line x1="401.93" y1="372.5" x2="401.93" y2="380.5" stroke="#111" stroke-width="1.1"/>
<line x1="399.43" y1="372.5" x2="404.43" y2="372.5" stroke="#111" stroke-width="1.1"/>
<line x1="411.33" y1="380" x2="411.33" y2="385.5" stroke="#111" stroke-width="1.1"/>
<line x1="408.83" y1="380" x2="413.83" y2="380" stroke="#111" stroke-width="1.1"/>
<line x1="396.83" y1="507.2" x2="396.83" y2="511.2" stroke="#111" stroke-width="1.2"/>
<text transform="translate(393.799,524.85) scale(1.09,1)" font-family="Liberation Sans" font-size="10" font-weight="normal" text-anchor="start" fill="#222" >8</text>
<rect x="425.65999999999997" y="418" width="7.2" height="89.2" fill="#c4002b"/>
<rect x="435.15999999999997" y="413" width="7.2" height="94.2" fill="#134a82"/>
<rect x="444.65999999999997" y="383" width="7.2" height="124.2" fill="#3aa63c"/>
<rect x="454.05999999999995" y="387" width="7.2" height="120.2" fill="#5e1f6a"/>
<line x1="429.26" y1="415.5" x2="429.26" y2="419" stroke="#111" stroke-width="1.1"/>
<line x1="426.76" y1="415.5" x2="431.76" y2="415.5" stroke="#111" stroke-width="1.1"/>
<line x1="438.76" y1="408.8" x2="438.76" y2="414" stroke="#111" stroke-width="1.1"/>
<line x1="436.26" y1="408.8" x2="441.26" y2="408.8" stroke="#111" stroke-width="1.1"/>
<line x1="448.26" y1="377.5" x2="448.26" y2="384" stroke="#111" stroke-width="1.1"/>
<line x1="445.76" y1="377.5" x2="450.76" y2="377.5" stroke="#111" stroke-width="1.1"/>
<line x1="457.65999999999997" y1="384.5" x2="457.65999999999997" y2="388" stroke="#111" stroke-width="1.1"/>
<line x1="455.15999999999997" y1="384.5" x2="460.15999999999997" y2="384.5" stroke="#111" stroke-width="1.1"/>
<line x1="443.15999999999997" y1="507.2" x2="443.15999999999997" y2="511.2" stroke="#111" stroke-width="1.2"/>
<path d="M440 524.85 L440 518.81 L438.31 519.92 L438.31 519.09 L440.08 517.97 L441.2 517.97 L441.2 524.85Z" fill="#222"/>
<text transform="translate(443.16,524.85) scale(1.09,1)" font-family="Liberation Sans" font-size="10" font-weight="normal" text-anchor="start" fill="#222" >5</text>
<rect x="471.99" y="417" width="7.2" height="90.2" fill="#c4002b"/>
<rect x="481.49" y="405.5" width="7.2" height="101.7" fill="#134a82"/>
<rect x="490.99" y="381.3" width="7.2" height="125.9" fill="#3aa63c"/>
<rect x="500.39" y="386.3" width="7.2" height="120.9" fill="#5e1f6a"/>
<line x1="475.59000000000003" y1="415" x2="475.59000000000003" y2="418" stroke="#111" stroke-width="1.1"/>
<line x1="473.09000000000003" y1="415" x2="478.09000000000003" y2="415" stroke="#111" stroke-width="1.1"/>
<line x1="485.09000000000003" y1="401.8" x2="485.09000000000003" y2="406.5" stroke="#111" stroke-width="1.1"/>
<line x1="482.59000000000003" y1="401.8" x2="487.59000000000003" y2="401.8" stroke="#111" stroke-width="1.1"/>
<line x1="494.59000000000003" y1="377.5" x2="494.59000000000003" y2="382.3" stroke="#111" stroke-width="1.1"/>
<line x1="492.09000000000003" y1="377.5" x2="497.09000000000003" y2="377.5" stroke="#111" stroke-width="1.1"/>
<line x1="503.99" y1="383" x2="503.99" y2="387.3" stroke="#111" stroke-width="1.1"/>
<line x1="501.49" y1="383" x2="506.49" y2="383" stroke="#111" stroke-width="1.1"/>
<line x1="489.49" y1="507.2" x2="489.49" y2="511.2" stroke="#111" stroke-width="1.2"/>
<text transform="translate(483.429,524.85) scale(1.09,1)" font-family="Liberation Sans" font-size="10" font-weight="normal" text-anchor="start" fill="#222" >2</text>
<path d="M492 524.85 L492 518.81 L490.31 519.92 L490.31 519.09 L492.08 517.97 L493.2 517.97 L493.2 524.85Z" fill="#222"/>
<polyline points="336.6,410 336.6,353.8 355.6,353.8 355.6,362" fill="none" stroke="#222" stroke-width="1.05"/>
<text transform="translate(342.98,352.42)" font-family="Liberation Sans" font-size="8.5" font-weight="normal" text-anchor="middle" fill="#222" stroke="#222" stroke-width="0.35" >*</text>
<text transform="translate(347.02,352.42)" font-family="Liberation Sans" font-size="8.5" font-weight="normal" text-anchor="middle" fill="#222" stroke="#222" stroke-width="0.35" >*</text>
<polyline points="382.8,407 382.8,386.3 392.4,386.3 392.4,394.5" fill="none" stroke="#222" stroke-width="1.05"/>
<text transform="translate(387.5,384.42)" font-family="Liberation Sans" font-size="8.5" font-weight="normal" text-anchor="middle" fill="#222" stroke="#222" stroke-width="0.35" >*</text>
<polyline points="401.9,369 401.9,359.5 411.3,359.5 411.3,377" fill="none" stroke="#222" stroke-width="1.05"/>
<text transform="translate(406.3,354.89) scale(1.05,1)" font-family="Liberation Sans" font-size="9.6" font-weight="normal" text-anchor="middle" fill="#222" stroke="#222" stroke-width="0.15" >ns</text>
<polyline points="429.1,412 429.1,397 438.5,397 438.5,405" fill="none" stroke="#222" stroke-width="1.05"/>
<text transform="translate(433.8,393.09) scale(1.05,1)" font-family="Liberation Sans" font-size="9.6" font-weight="normal" text-anchor="middle" fill="#222" stroke="#222" stroke-width="0.15" >ns</text>
<polyline points="448.3,374 448.3,364.5 457.7,364.5 457.7,381" fill="none" stroke="#222" stroke-width="1.05"/>
<text transform="translate(452.5,360.39) scale(1.05,1)" font-family="Liberation Sans" font-size="9.6" font-weight="normal" text-anchor="middle" fill="#222" stroke="#222" stroke-width="0.15" >ns</text>
<polyline points="475.4,412 475.4,384.5 484.8,384.5 484.8,398" fill="none" stroke="#222" stroke-width="1.05"/>
<text transform="translate(480,381.09) scale(1.05,1)" font-family="Liberation Sans" font-size="9.6" font-weight="normal" text-anchor="middle" fill="#222" stroke="#222" stroke-width="0.15" >ns</text>
<polyline points="494.5,374 494.5,359.5 503.9,359.5 503.9,380" fill="none" stroke="#222" stroke-width="1.05"/>
<text transform="translate(499.3,354.89) scale(1.05,1)" font-family="Liberation Sans" font-size="9.6" font-weight="normal" text-anchor="middle" fill="#222" stroke="#222" stroke-width="0.15" >ns</text>
<text transform="translate(420.8,542.0) scale(0.66,1)" font-family="Liberation Sans" font-size="11.7" font-weight="normal" text-anchor="middle" fill="#222" stroke="#222" stroke-width="0.3" >Days</text>
<text transform="translate(296.9,424.6) rotate(-90) scale(0.75,1)" font-family="Liberation Sans" font-size="12" font-weight="normal" text-anchor="middle" fill="#1a1a1a" stroke="#1a1a1a" stroke-width="0.45" >Platelet volume (fL)</text>
<line x1="62.0" y1="626.4" x2="62.0" y2="753.6" stroke="#111" stroke-width="1.3"/>
<line x1="58.0" y1="753.0" x2="62.0" y2="753.0" stroke="#111" stroke-width="1.3"/>
<text transform="translate(48.139,756.15) scale(1.09,1)" font-family="Liberation Sans" font-size="10" font-weight="normal" text-anchor="start" fill="#222" >0</text>
<line x1="58.0" y1="722.25" x2="62.0" y2="722.25" stroke="#111" stroke-width="1.3"/>
<path d="M45 725.4 L45 719.36 L43.31 720.47 L43.31 719.64 L45.08 718.52 L46.2 718.52 L46.2 725.4Z" fill="#222"/>
<text transform="translate(48.139,725.4) scale(1.09,1)" font-family="Liberation Sans" font-size="10" font-weight="normal" text-anchor="start" fill="#222" >0</text>
<line x1="58.0" y1="691.5" x2="62.0" y2="691.5" stroke="#111" stroke-width="1.3"/>
<text transform="translate(42.077,694.65) scale(1.09,1)" font-family="Liberation Sans" font-size="10" font-weight="normal" text-anchor="start" fill="#222" >2</text>
<text transform="translate(48.139,694.65) scale(1.09,1)" font-family="Liberation Sans" font-size="10" font-weight="normal" text-anchor="start" fill="#222" >0</text>
<line x1="58.0" y1="660.75" x2="62.0" y2="660.75" stroke="#111" stroke-width="1.3"/>
<text transform="translate(42.077,663.9) scale(1.09,1)" font-family="Liberation Sans" font-size="10" font-weight="normal" text-anchor="start" fill="#222" >3</text>
<text transform="translate(48.139,663.9) scale(1.09,1)" font-family="Liberation Sans" font-size="10" font-weight="normal" text-anchor="start" fill="#222" >0</text>
<line x1="58.0" y1="630.0" x2="62.0" y2="630.0" stroke="#111" stroke-width="1.3"/>
<text transform="translate(42.077,633.15) scale(1.09,1)" font-family="Liberation Sans" font-size="10" font-weight="normal" text-anchor="start" fill="#222" >4</text>
<text transform="translate(48.139,633.15) scale(1.09,1)" font-family="Liberation Sans" font-size="10" font-weight="normal" text-anchor="start" fill="#222" >0</text>
<rect x="72.2" y="653.0" width="34.8" height="100.0" fill="#c4002b"/>
<rect x="117.9" y="745" width="34.6" height="8" fill="#134a82"/>
<rect x="163.3" y="693.4" width="34.7" height="59.6" fill="#c4002b"/>
<rect x="208.3" y="708.5" width="35.3" height="44.5" fill="#134a82"/>
<line x1="89.6" y1="648.6" x2="89.6" y2="653.5" stroke="#111" stroke-width="1.2"/>
<line x1="80.75" y1="648.6" x2="98.44999999999999" y2="648.6" stroke="#111" stroke-width="1.2"/>
<line x1="89.6" y1="653.0" x2="89.6" y2="655.5" stroke="#7a1424" stroke-width="1.0"/>
<line x1="80.75" y1="655.5" x2="98.44999999999999" y2="655.5" stroke="#7a1424" stroke-width="1.1"/>
<text transform="translate(89.6,766.73)" font-family="Liberation Sans" font-size="10.5" font-weight="normal" text-anchor="middle" fill="#222" >WT</text>
<line x1="135.2" y1="743" x2="135.2" y2="745.5" stroke="#111" stroke-width="1.2"/>
<line x1="126.19999999999999" y1="743" x2="144.2" y2="743" stroke="#111" stroke-width="1.2"/>
<text transform="translate(135.2,766.73)" font-family="Liberation Sans" font-size="10.5" font-weight="normal" text-anchor="middle" fill="#222" >G6b KO</text>
<line x1="180.65" y1="691.8" x2="180.65" y2="693.9" stroke="#111" stroke-width="1.2"/>
<line x1="171.65" y1="691.8" x2="189.65" y2="691.8" stroke="#111" stroke-width="1.2"/>
<text transform="translate(180.65,766.73)" font-family="Liberation Sans" font-size="10.5" font-weight="normal" text-anchor="middle" fill="#222" >WT</text>
<line x1="225.95" y1="703" x2="225.95" y2="709.0" stroke="#111" stroke-width="1.2"/>
<line x1="217.1" y1="703" x2="234.79999999999998" y2="703" stroke="#111" stroke-width="1.2"/>
<line x1="225.95" y1="708.5" x2="225.95" y2="712.3" stroke="#0c2440" stroke-width="1.0"/>
<line x1="217.1" y1="712.3" x2="234.79999999999998" y2="712.3" stroke="#0c2440" stroke-width="1.1"/>
<text transform="translate(225.95,766.73)" font-family="Liberation Sans" font-size="10.5" font-weight="normal" text-anchor="middle" fill="#222" >G6b KO</text>
<line x1="61.4" y1="753" x2="250.4" y2="753" stroke="#111" stroke-width="1.3"/>
<polyline points="135.1,597.6 135.1,592.2 226.0,592.2 226.0,629.4" fill="none" stroke="#222" stroke-width="1.05"/>
<text transform="translate(172.15,590.2)" font-family="Liberation Sans" font-size="7.5" font-weight="normal" text-anchor="middle" fill="#222" stroke="#222" stroke-width="0.35" >*</text>
<text transform="translate(176.2,590.2)" font-family="Liberation Sans" font-size="7.5" font-weight="normal" text-anchor="middle" fill="#222" stroke="#222" stroke-width="0.35" >*</text>
<text transform="translate(180.25,590.2)" font-family="Liberation Sans" font-size="7.5" font-weight="normal" text-anchor="middle" fill="#222" stroke="#222" stroke-width="0.35" >*</text>
<polyline points="89.7,629.4 89.7,614.8 180.7,614.8 180.7,629.4" fill="none" stroke="#222" stroke-width="1.05"/>
<text transform="translate(130.85,612.5)" font-family="Liberation Sans" font-size="7.5" font-weight="normal" text-anchor="middle" fill="#222" stroke="#222" stroke-width="0.35" >*</text>
<text transform="translate(134.9,612.5)" font-family="Liberation Sans" font-size="7.5" font-weight="normal" text-anchor="middle" fill="#222" stroke="#222" stroke-width="0.35" >*</text>
<text transform="translate(138.95,612.5)" font-family="Liberation Sans" font-size="7.5" font-weight="normal" text-anchor="middle" fill="#222" stroke="#222" stroke-width="0.35" >*</text>
<polyline points="89.7,641.1 89.7,636.7 135.1,636.7 135.1,738" fill="none" stroke="#222" stroke-width="1.05"/>
<text transform="translate(108.15,634.4)" font-family="Liberation Sans" font-size="7.5" font-weight="normal" text-anchor="middle" fill="#222" stroke="#222" stroke-width="0.35" >*</text>
<text transform="translate(112.2,634.4)" font-family="Liberation Sans" font-size="7.5" font-weight="normal" text-anchor="middle" fill="#222" stroke="#222" stroke-width="0.35" >*</text>
<text transform="translate(116.25,634.4)" font-family="Liberation Sans" font-size="7.5" font-weight="normal" text-anchor="middle" fill="#222" stroke="#222" stroke-width="0.35" >*</text>
<polyline points="180.7,688 180.7,636.7 226.0,636.7 226.0,697" fill="none" stroke="#222" stroke-width="1.05"/>
<text transform="translate(202.5,634.4)" font-family="Liberation Sans" font-size="7.5" font-weight="normal" text-anchor="middle" fill="#222" stroke="#222" stroke-width="0.35" >*</text>
<line x1="72.5" y1="773.2" x2="151.9" y2="773.2" stroke="#111" stroke-width="1.2"/>
<line x1="162.9" y1="773.2" x2="244.2" y2="773.2" stroke="#111" stroke-width="1.2"/>
<text transform="translate(112,786.19)" font-family="Liberation Sans" font-size="10.1" font-weight="normal" text-anchor="middle" fill="#222" >Vehicle</text>
<text transform="translate(202.4,786.19)" font-family="Liberation Sans" font-size="10.1" font-weight="normal" text-anchor="middle" fill="#222" >Romiplostim</text>
<text transform="translate(35.0,689.6) rotate(-90) scale(0.68,1)" font-family="Liberation Sans" font-size="12.5" font-weight="normal" text-anchor="middle" fill="#1a1a1a" stroke="#1a1a1a" stroke-width="0.5" >GPVI MFI</text>
<line x1="325.8" y1="624.1999999999999" x2="325.8" y2="753.6" stroke="#111" stroke-width="1.3"/>
<line x1="321.8" y1="753.0" x2="325.8" y2="753.0" stroke="#111" stroke-width="1.3"/>
<text transform="translate(311.939,756.15) scale(1.09,1)" font-family="Liberation Sans" font-size="10" font-weight="normal" text-anchor="start" fill="#222" >0</text>
<line x1="321.8" y1="721.7" x2="325.8" y2="721.7" stroke="#111" stroke-width="1.3"/>
<path d="M309 724.85 L309 718.81 L307.31 719.92 L307.31 719.09 L309.08 717.97 L310.2 717.97 L310.2 724.85Z" fill="#222"/>
<text transform="translate(311.939,724.85) scale(1.09,1)" font-family="Liberation Sans" font-size="10" font-weight="normal" text-anchor="start" fill="#222" >0</text>
<line x1="321.8" y1="690.4" x2="325.8" y2="690.4" stroke="#111" stroke-width="1.3"/>
<text transform="translate(305.877,693.5500000000001) scale(1.09,1)" font-family="Liberation Sans" font-size="10" font-weight="normal" text-anchor="start" fill="#222" >2</text>
<text transform="translate(311.939,693.5500000000001) scale(1.09,1)" font-family="Liberation Sans" font-size="10" font-weight="normal" text-anchor="start" fill="#222" >0</text>
<line x1="321.8" y1="659.1" x2="325.8" y2="659.1" stroke="#111" stroke-width="1.3"/>
<text transform="translate(305.877,662.25) scale(1.09,1)" font-family="Liberation Sans" font-size="10" font-weight="normal" text-anchor="start" fill="#222" >3</text>
<text transform="translate(311.939,662.25) scale(1.09,1)" font-family="Liberation Sans" font-size="10" font-weight="normal" text-anchor="start" fill="#222" >0</text>
<line x1="321.8" y1="627.8" x2="325.8" y2="627.8" stroke="#111" stroke-width="1.3"/>
<text transform="translate(305.877,630.95) scale(1.09,1)" font-family="Liberation Sans" font-size="10" font-weight="normal" text-anchor="start" fill="#222" >4</text>
<text transform="translate(311.939,630.95) scale(1.09,1)" font-family="Liberation Sans" font-size="10" font-weight="normal" text-anchor="start" fill="#222" >0</text>
<rect x="333.7" y="661.2" width="30.3" height="91.8" fill="#c4002b"/>
<rect x="381.2" y="698.8" width="29.9" height="54.2" fill="#134a82"/>
<rect x="428.2" y="682" width="29.6" height="71" fill="#c4002b"/>
<rect x="475.2" y="687.7" width="29.8" height="65.3" fill="#134a82"/>
<line x1="348.85" y1="658" x2="348.85" y2="661.7" stroke="#111" stroke-width="1.2"/>
<line x1="341.1" y1="658" x2="356.6" y2="658" stroke="#111" stroke-width="1.2"/>
<text transform="translate(348.85,766.83)" font-family="Liberation Sans" font-size="10.5" font-weight="normal" text-anchor="middle" fill="#222" >WT</text>
<line x1="396.15" y1="692.3" x2="396.15" y2="699.3" stroke="#111" stroke-width="1.2"/>
<line x1="388.4" y1="692.3" x2="403.9" y2="692.3" stroke="#111" stroke-width="1.2"/>
<text transform="translate(396.15,766.83)" font-family="Liberation Sans" font-size="10.5" font-weight="normal" text-anchor="middle" fill="#222" >G6b KO</text>
<line x1="443.0" y1="675.2" x2="443.0" y2="682.5" stroke="#111" stroke-width="1.2"/>
<line x1="435.35" y1="675.2" x2="450.65" y2="675.2" stroke="#111" stroke-width="1.2"/>
<text transform="translate(443.0,766.83)" font-family="Liberation Sans" font-size="10.5" font-weight="normal" text-anchor="middle" fill="#222" >WT</text>
<line x1="490.1" y1="682.9" x2="490.1" y2="688.2" stroke="#111" stroke-width="1.2"/>
<line x1="482.5" y1="682.9" x2="497.70000000000005" y2="682.9" stroke="#111" stroke-width="1.2"/>
<text transform="translate(490.1,766.83)" font-family="Liberation Sans" font-size="10.5" font-weight="normal" text-anchor="middle" fill="#222" >G6b KO</text>
<line x1="325.2" y1="753" x2="512.7" y2="753" stroke="#111" stroke-width="1.3"/>
<polyline points="396.2,607.5 396.2,599.6 490.2,599.6 490.2,637.5" fill="none" stroke="#222" stroke-width="1.05"/>
<text transform="translate(442.5,595.89) scale(1.05,1)" font-family="Liberation Sans" font-size="9.6" font-weight="normal" text-anchor="middle" fill="#222" stroke="#222" stroke-width="0.15" >ns</text>
<polyline points="348.9,638.8 348.9,623.4 442.9,623.4 442.9,637.5" fill="none" stroke="#222" stroke-width="1.05"/>
<text transform="translate(396.0,620.4)" font-family="Liberation Sans" font-size="7.5" font-weight="normal" text-anchor="middle" fill="#222" stroke="#222" stroke-width="0.35" >*</text>
<polyline points="348.9,652.5 348.9,646 396.2,646 396.2,686.3" fill="none" stroke="#222" stroke-width="1.05"/>
<text transform="translate(366.95,642.9)" font-family="Liberation Sans" font-size="7.5" font-weight="normal" text-anchor="middle" fill="#222" stroke="#222" stroke-width="0.35" >*</text>
<text transform="translate(371.0,642.9)" font-family="Liberation Sans" font-size="7.5" font-weight="normal" text-anchor="middle" fill="#222" stroke="#222" stroke-width="0.35" >*</text>
<text transform="translate(375.05,642.9)" font-family="Liberation Sans" font-size="7.5" font-weight="normal" text-anchor="middle" fill="#222" stroke="#222" stroke-width="0.35" >*</text>
<polyline points="442.9,668.7 442.9,646 490.2,646 490.2,676.8" fill="none" stroke="#222" stroke-width="1.05"/>
<text transform="translate(466,642.09) scale(1.05,1)" font-family="Liberation Sans" font-size="9.6" font-weight="normal" text-anchor="middle" fill="#222" stroke="#222" stroke-width="0.15" >ns</text>
<line x1="331.8" y1="774.0" x2="412.2" y2="774.0" stroke="#111" stroke-width="1.2"/>
<line x1="426.8" y1="774.0" x2="510.9" y2="774.0" stroke="#111" stroke-width="1.2"/>
<text transform="translate(372,786.09)" font-family="Liberation Sans" font-size="10.1" font-weight="normal" text-anchor="middle" fill="#222" >Vehicle</text>
<text transform="translate(468.8,786.09)" font-family="Liberation Sans" font-size="10.1" font-weight="normal" text-anchor="middle" fill="#222" >Romiplostim</text>
<text transform="translate(298.5,683.8) rotate(-90)" font-family="Liberation Sans" font-size="10" text-anchor="middle" fill="#222" stroke="#222" stroke-width="0.3" textLength="15.6" lengthAdjust="spacingAndGlyphs">2 MFI</text>
<text transform="translate(298.5,697.2) rotate(-90)" font-family="Liberation Serif" font-size="12.5" text-anchor="middle" fill="#222">α</text>
</svg>
</body></html>
